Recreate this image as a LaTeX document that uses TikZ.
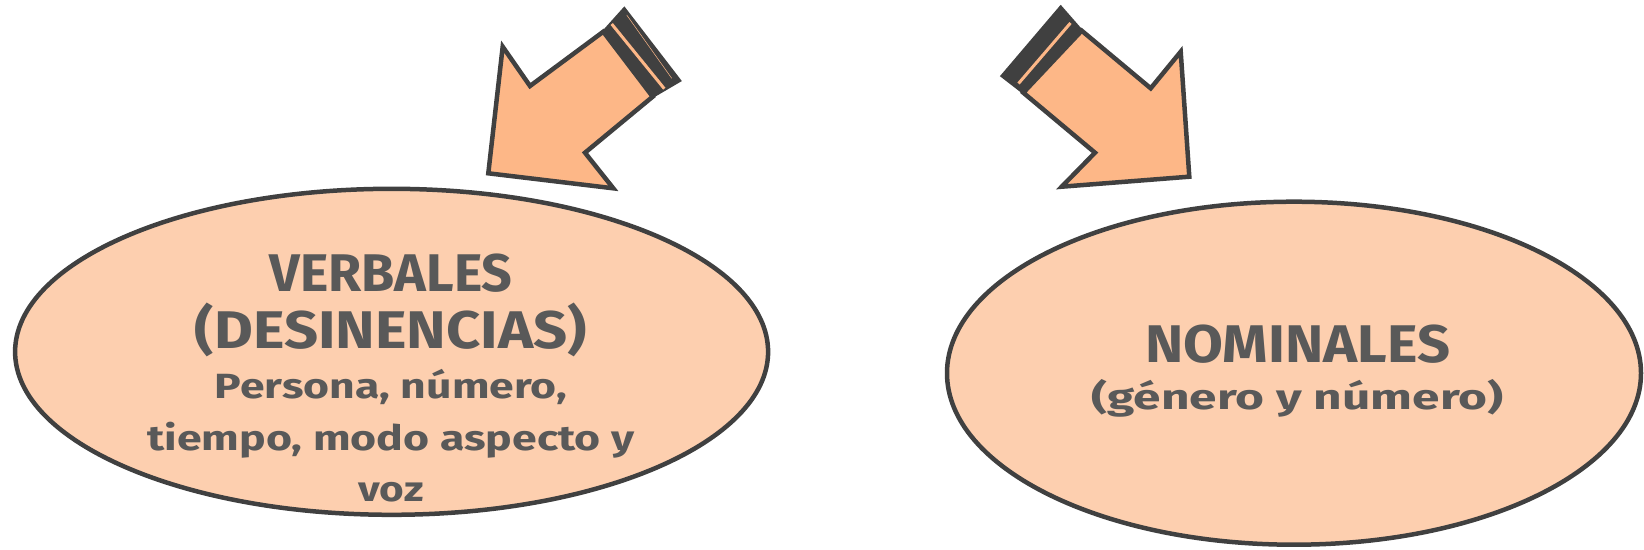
\documentclass[tikz,border=0pt]{standalone}
\usepackage{fontspec}
\usepackage{graphicx}
\setmainfont{Fira Sans}
\usetikzlibrary{shapes.geometric}
\definecolor{txt}{HTML}{595959}
\definecolor{edgec}{HTML}{404040}
\definecolor{ellfill}{HTML}{FDCFAF}
\definecolor{arrfill}{HTML}{FDB787}
\newcommand\wline[3]{\resizebox{#1pt}{\height}{\fontsize{#2}{#2}\selectfont\bfseries #3}}
\tikzset{
  bubble/.style={ellipse, draw=edgec, fill=ellfill, line width=4.5pt, inner sep=0pt},
  label text/.style={text=txt, anchor=base, inner sep=0pt},
  arrowbody/.style={draw=edgec, fill=arrfill, line width=4.5pt, line join=miter},
  arrowtail/.style={draw=edgec, fill=edgec, line width=2.5pt, line join=miter},
  tailstripe/.style={draw=arrfill, line width=3pt},
}
\begin{document}
\begin{tikzpicture}[x=1pt,y=-1pt]
\useasboundingbox (0,0) rectangle (1644,549);
% ellipses
\node[bubble, minimum width=753pt, minimum height=326pt] (verb) at (391.6,351.8) {};
\node[bubble, minimum width=694pt, minimum height=343pt] (nom) at (1294,373.2) {};
% left text
\node[label text] (v1) at (391,291.7) {\wline{243}{53}{VERBALES}};
\node[label text] (v2) at (391,348.3) {\wline{392}{53}{(DESINENCIAS)}};
\node[label text] (v3) at (391,398) {\wline{352}{35}{Persona, número,}};
\node[label text] (v4) at (391,450) {\wline{487}{35}{tiempo, modo aspecto y}};
\node[label text] (v5) at (391,501.7) {\wline{65}{35}{voz}};
% right text
\node[label text] (n1) at (1297.5,362.7) {\wline{305}{53}{NOMINALES}};
\node[label text] (n2) at (1297.5,409) {\wline{412}{35}{(género y número)}};
% left arrow
\draw[arrowtail] (603.3,31.7) -- (624.3,8.3) -- (680,80.7) -- (652.7,96.7) -- cycle;
\draw[tailstripe] (611.7,24) -- (664.3,88.7);
\draw[draw=arrfill, line width=0.5pt] (626.7,15) -- (671.7,78.3);
\draw[arrowbody] (603.3,31.7) -- (652.7,96.7) -- (585,152.7) -- (613.3,188.3)
  -- (488.3,173.3) -- (502.7,46.7) -- (530,86) -- cycle;
% right arrow
\draw[arrowtail] (1081.7,30.7) -- (1060.7,6.7) -- (1001.7,76) -- (1023.3,92.7) -- cycle;
\draw[tailstripe] (1070.5,23) -- (1018.5,83.5);
\draw[arrowbody] (1081.7,30.7) -- (1150.7,88.3) -- (1180.7,51.7) -- (1189.3,176.7)
  -- (1061.7,186.7) -- (1095,152.7) -- (1023.3,92.7) -- cycle;
\end{tikzpicture}
\end{document}
